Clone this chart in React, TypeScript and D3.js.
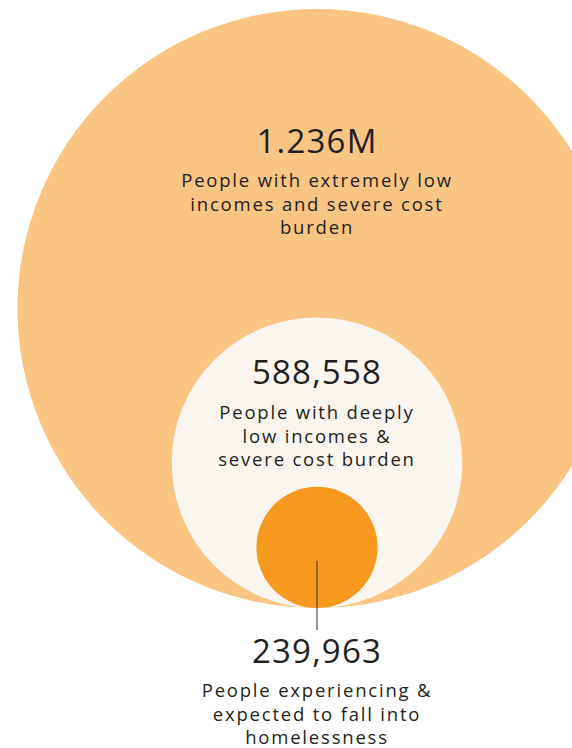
import React from "react";
import * as d3 from "d3";

const categories = ["extreme", "deep", "homeless"];
const values = [1236000, 588558, 239963];
const valueLabels = ["1.236M", "588,558", "239,963"];
const descriptions = [
  ["People with extremely low", "incomes and severe cost", "burden"],
  ["People with deeply", "low incomes &", "severe cost burden"],
  ["People experiencing &", "expected to fall into", "homelessness"],
];
const colors = ["#FAC482", "#FAF5EF", "#F7991F"];

const W = 572;
const H = 748;
const FONT = "'Open Sans', sans-serif";

export default function App() {
  const cx = 317;
  const baseY = 608;
  const r = d3.scalePow().exponent(0.975).domain([0, d3.max(values) as number]).range([0, 299.5]);
  const circles = values.map((v, i) => ({
    key: categories[i],
    r: r(v),
    cy: baseY - r(v),
    color: colors[i],
  }));
  const big = circles[0];
  const mid = circles[1];
  const small = circles[2];

  const textColor = "#231F20";
  const numSize = 33;
  const lblSize = 18.5;
  const lh = 23.5;

  const bigNumY = big.cy - big.r + 144;
  const midNumY = mid.cy - mid.r + 67;
  const smallNumY = baseY + 55;

  const block = (numY: number, i: number, gap: number) => (
    <g key={"t" + i}>
      <text x={cx} y={numY} textAnchor="middle" fontSize={numSize} fill={textColor} fontFamily={FONT} letterSpacing={1.2}>
        {valueLabels[i]}
      </text>
      {descriptions[i].map((line, j) => (
        <text
          key={j}
          x={cx}
          y={numY + gap + j * lh}
          textAnchor="middle"
          fontSize={lblSize}
          fontWeight={500}
          letterSpacing={1.8}
          fill={textColor}
          fontFamily={FONT}
        >
          {line}
        </text>
      ))}
    </g>
  );

  return (
    <div style={{ position: "fixed", left: 0, top: 0, width: W, height: H, background: "#fff" }}>
      <svg width={W} height={H} style={{ display: "block" }}>
        {circles.map((c) => (
          <circle key={c.key} cx={cx} cy={c.cy} r={c.r} fill={c.color} />
        ))}
        <line
          x1={cx}
          x2={cx}
          y1={small.cy + small.r * 0.22}
          y2={baseY + 22}
          stroke="#333"
          strokeWidth={1}
        />
        {block(bigNumY, 0, 34)}
        {block(midNumY, 1, 35)}
        {block(smallNumY, 2, 34)}
      </svg>
    </div>
  );
}
